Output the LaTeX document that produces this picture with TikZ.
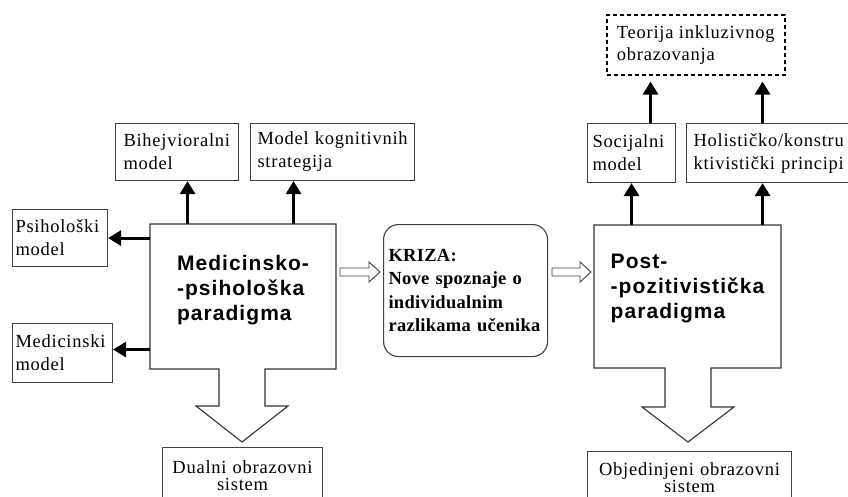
\documentclass[tikz,border=0pt]{standalone}
\usepackage{fontspec}
\usetikzlibrary{arrows.meta,calc}
\newfontfamily\serifls[LetterSpace=4]{Liberation Serif}
\newfontfamily\serifbls[LetterSpace=1.5]{Liberation Serif}
\newfontfamily\sansls[LetterSpace=5]{Liberation Sans}
\hyphenpenalty=10000 \exhyphenpenalty=10000
\begin{document}
\begin{tikzpicture}[x=1pt,y=-1pt,
  tb/.style={draw=black!75, line width=1.1pt, font=\serifls\fontsize{18.5}{23}\selectfont, align=left, anchor=north west, inner ysep=0pt},
  arr/.style={line width=3pt, -{Triangle[width=15pt,length=13pt]}},
  oarrow/.style={draw=black!75, line width=0.9pt, fill=white},
  big/.style={font=\sansls\bfseries\fontsize{21}{25}\selectfont, align=left},
  frame/.style={line width=1.1pt, draw=black!80}
]
\clip (0,0) rectangle (848,497);
\fill[white] (0,0) rectangle (848,497);

% main frames
\node[minimum width=186pt, minimum height=145pt, inner sep=0pt] (med) at (243,296.5) {};
\draw[frame] (150,224) -- (336,224) -- (336,369) -- (265,369) -- (265,406) -- (288,406) -- (242,442) -- (196,406) -- (219,406) -- (219,369) -- (150,369) -- cycle;
\node[big] (medtxt) at (243,290) {Medicinsko-\\-psihološka\\paradigma};

\node[minimum width=187pt, minimum height=143pt, inner sep=0pt] (post) at (687.5,296.5) {};
\draw[frame] (594,225) -- (781,225) -- (781,368) -- (711,368) -- (711,407) -- (734,407) -- (688,442) -- (642,407) -- (665,407) -- (665,368) -- (594,368) -- cycle;
\node[big] (posttxt) at (687.5,288) {Post-\\-pozitivistička\\paradigma};

% small boxes
\node[tb, text width=107pt, inner xsep=8pt, minimum height=57pt] (bih) at (115,123) {Bihejvioralni\\model};
\node[tb, text width=150pt, inner xsep=7pt, minimum height=57pt] (kog) at (250,123) {Model kognitivnih\\strategija};
\node[tb, text width=89pt, inner xsep=3pt, minimum height=57pt] (psi) at (12,209) {Psihološki\\model};
\node[tb, text width=94pt, inner xsep=3pt, minimum height=59pt] (medm) at (12,323) {Medicinski\\model};
\node[tb, text width=78pt, inner xsep=5pt, minimum height=59pt] (soc) at (587,123) {Socijalni\\model};
\node[tb, text width=150pt, inner xsep=7pt, minimum height=59pt] (hol) at (686,123) {Holističko/konstru\\ktivistički principi};
\node[tb, draw=black, dash pattern=on 4pt off 3pt, line width=1.6pt, inner xsep=2pt, minimum width=178pt, minimum height=60pt, font=\serifls\fontsize{18.5}{22}\selectfont] (teo) at (606,14) {Teorija inkluzivnog\\obrazovanja};
\node[tb, align=center, text width=150pt, inner xsep=5pt, minimum height=56pt, font=\serifls\fontsize{18.5}{17.5}\selectfont] (dual) at (162,447) {Dualni obrazovni\\sistem};
\node[tb, align=center, text width=194pt, inner xsep=5pt, minimum height=52pt, font=\serifls\fontsize{18.5}{17.5}\selectfont] (obj) at (587,451) {Objedinjeni obrazovni\\sistem};
\node[tb, rounded corners=15pt, text width=154pt, inner xsep=5pt, minimum height=132pt, font=\serifbls\bfseries\fontsize{18.5}{23.5}\selectfont] (kriza) at (383,224) {KRIZA:\\Nove spoznaje o\\individualnim\\razlikama učenika};
% extend bottom boxes beyond the lower edge
\draw[draw=black!75, line width=1.1pt] (dual.south west) -- ++(0,20);
\draw[draw=black!75, line width=1.1pt] (dual.south east) -- ++(0,20);
\draw[draw=black!75, line width=1.1pt] (obj.south west) -- ++(0,20);
\draw[draw=black!75, line width=1.1pt] (obj.south east) -- ++(0,20);
\fill[white] ([xshift=1pt]dual.south west) rectangle ([xshift=-1pt,yshift=-10pt]dual.south east);
\fill[white] ([xshift=1pt]obj.south west) rectangle ([xshift=-1pt,yshift=-10pt]obj.south east);

% open (hollow) arrows
\draw[oarrow] (340,268) -- (369,268) -- (369,262) -- (380,272) -- (369,282) -- (369,276) -- (340,276) -- cycle;
\draw[oarrow] (552,268) -- (580,268) -- (580,262) -- (591,272) -- (580,282) -- (580,276) -- (552,276) -- cycle;

% connectors
\draw[arr] ([xshift=10.5pt]bih.south |- med.north) -- ([xshift=10.5pt]bih.south);
\draw[arr] ([xshift=-39pt]kog.south |- med.north) -- ([xshift=-39pt]kog.south);
\draw[arr] (med.west |- psi.east) -- (psi.east);
\draw[arr] ([yshift=3.5pt]medm.east -| med.west) -- ([yshift=3.5pt]medm.east);
\draw[arr] (soc.south |- post.north) -- (soc.south);
\draw[arr] ([xshift=-6pt]hol.south |- post.north) -- ([xshift=-6pt]hol.south);
\draw[arr, shorten >=6pt] ([xshift=19pt]soc.north) -- ([xshift=19pt]soc.north |- teo.south);
\draw[arr, shorten >=6pt] ([xshift=-6pt]hol.north) -- ([xshift=-6pt]hol.north |- teo.south);
\end{tikzpicture}
\end{document}
